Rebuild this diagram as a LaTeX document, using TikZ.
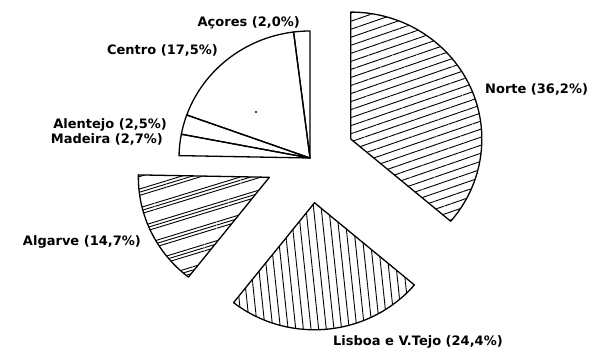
\documentclass[tikz,border=0pt]{standalone}
\usepackage{fontspec}
\setmainfont{DejaVu Sans}
\usetikzlibrary{calc,patterns.meta}

\begin{document}
\begin{tikzpicture}[x=1pt,y=1pt,
                    slice/.style={draw,line width=1.3pt,line join=round},
                    region/.style={font=\bfseries\fontsize{13}{15}\selectfont,inner sep=0pt}]
    \useasboundingbox (0,0) rectangle (593,351);
    \coordinate (C) at (310,193);
    \coordinate (N) at ($(C)+(24.84:45)$);
    \coordinate (L) at ($(C)+(-84.24:45)$);
    \coordinate (A) at ($(C)+(-154.62:45)$);

    % Norte
    \draw[slice,pattern={Lines[angle=19,distance=7.6pt,line width=0.9pt]}]
        (N) -- ++(90:131 and 127) arc[start angle=90,end angle=-40.32,x radius=131,y radius=127] -- cycle;
    % Lisboa e V.Tejo
    \draw[slice,pattern={Lines[angle=96,distance=7.6pt,line width=0.9pt]}]
        (L) -- ++(-40.32:131 and 127) arc[start angle=-40.32,end angle=-128.16,x radius=131,y radius=127] -- cycle;
    % Algarve
    \foreach \s in {0,3.2,6.4}
        \path[pattern={Lines[angle=17,distance=18pt,yshift=\s pt,line width=0.9pt]}]
            (A) -- ++(-128.16:131 and 127) arc[start angle=-128.16,end angle=-181.08,x radius=131,y radius=127] -- cycle;
    \draw[slice]
        (A) -- ++(-128.16:131 and 127) arc[start angle=-128.16,end angle=-181.08,x radius=131,y radius=127] -- cycle;
    % Madeira, Alentejo, Centro, Acores
    \draw[slice]
        (C) -- ++(-181.08:131 and 127) arc[start angle=-181.08,end angle=-190.8,x radius=131,y radius=127] -- cycle;
    \draw[slice]
        (C) -- ++(-190.8:131 and 127) arc[start angle=-190.8,end angle=-199.8,x radius=131,y radius=127] -- cycle;
    \draw[slice]
        (C) -- ++(-199.8:131 and 127) arc[start angle=-199.8,end angle=-262.8,x radius=131,y radius=127] -- cycle;
    \draw[slice]
        (C) -- ++(-262.8:131 and 127) arc[start angle=-262.8,end angle=-270,x radius=131,y radius=127] -- cycle;
    \fill (256,239) circle (1.2);

    \node[region,anchor=base west] (norte) at (485,257.7) {Norte (36,2\%)};
    \node[region,anchor=base west] (lisboa) at (333,6) {Lisboa e V.Tejo (24,4\%)};
    \node[region,anchor=base east] (algarve) at (141,106) {Algarve (14,7\%)};
    \node[region,anchor=base east] (madeira) at (163,207.7) {Madeira (2,7\%)};
    \node[region,anchor=base east] (alentejo) at (167,222) {Alentejo (2,5\%)};
    \node[region,anchor=base east] (centro) at (218,296) {Centro (17,5\%)};
    \node[region,anchor=base east] (acores) at (300,324.5) {Açores (2,0\%)};
\end{tikzpicture}
\end{document}
